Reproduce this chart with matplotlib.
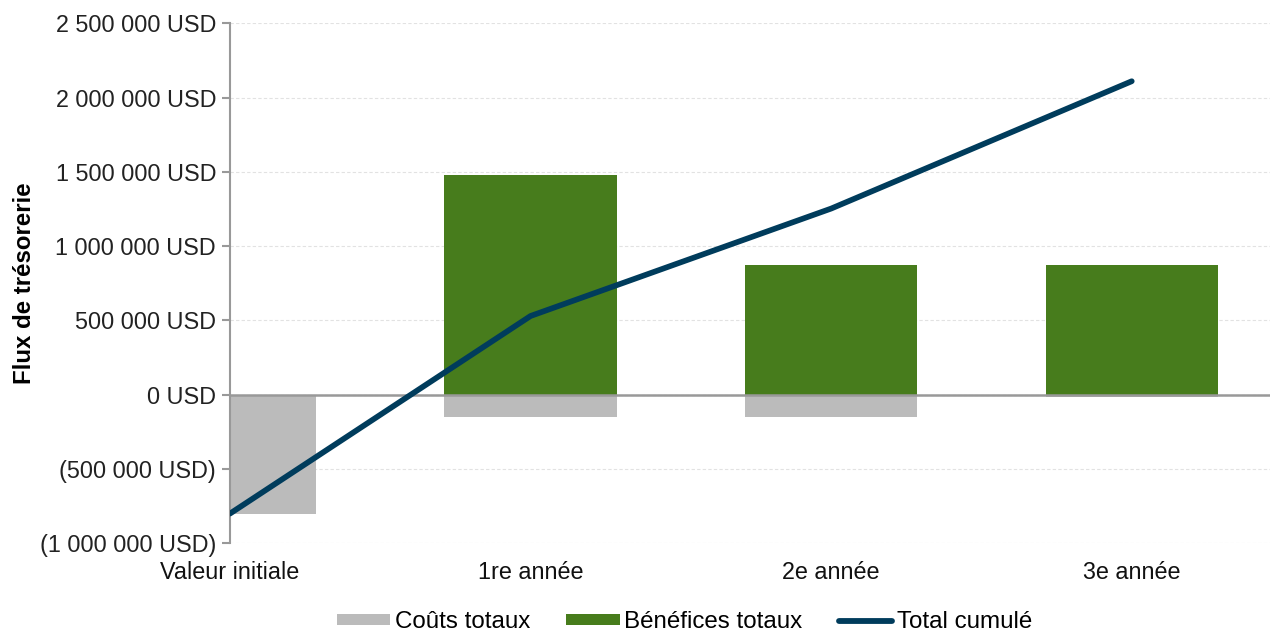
import matplotlib
matplotlib.use("Agg")
import matplotlib.pyplot as plt
from matplotlib.patches import Patch
from matplotlib.lines import Line2D

# donnees
categories = ["Valeur initiale", "1re année", "2e année", "3e année"]
couts = [-800000, -150000, -150000, -15000]
benefices = [0, 1480000, 873000, 873000]
cumul = [-800000, 530000, 1253000, 2110000]

y_ticks = [-1000000, -500000, 0, 500000, 1000000, 1500000, 2000000, 2500000]
y_labels = ["(1 000 000 USD)", "(500 000 USD)", "0 USD", "500 000 USD",
            "1 000 000 USD", "1 500 000 USD", "2 000 000 USD", "2 500 000 USD"]

gris = "#BBBBBB"
vert = "#477C1C"
bleu = "#003C5C"

plt.rcParams['font.family'] = ['Liberation Sans', 'DejaVu Sans']

fig = plt.figure(figsize=(12.7, 6.33), dpi=100)
ax = fig.add_axes([0.1811, 0.1417, 0.8189, 0.8215])

x = list(range(len(categories)))
largeur = 0.573

ax.bar(x, couts, width=largeur, color=gris, zorder=2)
ax.bar(x, benefices, width=largeur, color=vert, zorder=2)
ax.axhline(0, color="#999999", lw=1.8, zorder=3)
ax.plot(x, cumul, color=bleu, lw=4.1, solid_capstyle='round', zorder=4)

ax.set_xlim(0, 3.46)
ax.set_ylim(-1000000, 2500000)
ax.set_yticks(y_ticks)
ax.set_yticklabels(y_labels)
ax.set_xticks(x)
ax.set_xticklabels(categories)

# grille
ax.yaxis.grid(True, color="#E2E2E2", lw=0.8, ls=(0, (3, 2)), zorder=0)
ax.set_axisbelow(True)

for s in ["top", "right", "bottom"]:
    ax.spines[s].set_visible(False)
ax.spines["left"].set_color("#999999")
ax.spines["left"].set_linewidth(1.5)

ax.tick_params(axis="y", length=6, width=1.5, color="#999999", pad=4,
               labelsize=16.8, labelcolor="#222222")
ax.tick_params(axis="x", length=0, pad=13, labelsize=16.8, labelcolor="#111111")

ax.set_ylabel("Flux de trésorerie", fontsize=17.3, fontweight="bold")
ax.yaxis.set_label_coords(-0.187, 0.5)

poignees = [
    Patch(facecolor=gris, edgecolor="none"),
    Patch(facecolor=vert, edgecolor="none"),
    Line2D([0], [0], color=bleu, lw=4.2, solid_capstyle='round'),
]
fig.legend(poignees, ["Coûts totaux", "Bénéfices totaux", "Total cumulé"],
           loc="center", bbox_to_anchor=(0.539, 0.0174), ncol=3, frameon=False,
           fontsize=17.4, handlelength=2.2, handleheight=0.35,
           handletextpad=0.2, columnspacing=1.5)

fig.savefig("out.png", dpi=100)
